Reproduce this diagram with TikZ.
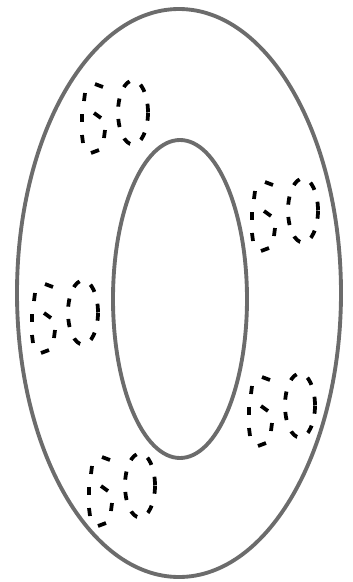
\documentclass[tikz,border=0pt]{standalone}
\usepackage{tikz}
\definecolor{ringgray}{RGB}{108,108,108}
\tikzset{
  ringline/.style={draw=ringgray, line width=3.3pt},
  digitdash/.style={draw=black, line width=3.2pt},
  digitline/.style={digitdash, dash pattern=on 7pt off 10.5pt},
  sixty/.pic={
    % the six, one stroke per dash
    \foreach \xa/\ya/\xb/\yb in {25/14/33/17, 15/23/14/31, 12/44/12/52,
                                 24/43/31/48, 12/65/13/73, 35/60/34/68,
                                 21/83/29/80}
      \draw[digitdash] (\xa,\ya) -- (\xb,\yb);
    % the zero
    \draw[digitline] (63,42.5) ellipse [x radius=15, y radius=32];
  }
}

\begin{document}
\begin{tikzpicture}[x=0.03cm, y=-0.03cm]
  \useasboundingbox (0,0) rectangle (352,582);

  % big zero
  \draw[ringline] (179,293) ellipse [x radius=162, y radius=284];
  \draw[ringline] (180,299) ellipse [x radius=67, y radius=159];

  % dashed sixties
  \pic (topleft)  at (70,70)   {sixty};
  \pic (rightup)  at (240,168) {sixty};
  \pic (leftmid)  at (20,270)  {sixty};
  \pic (rightlow) at (237,363) {sixty};
  \pic (bottom)   at (77,443)  {sixty};
\end{tikzpicture}
\end{document}
